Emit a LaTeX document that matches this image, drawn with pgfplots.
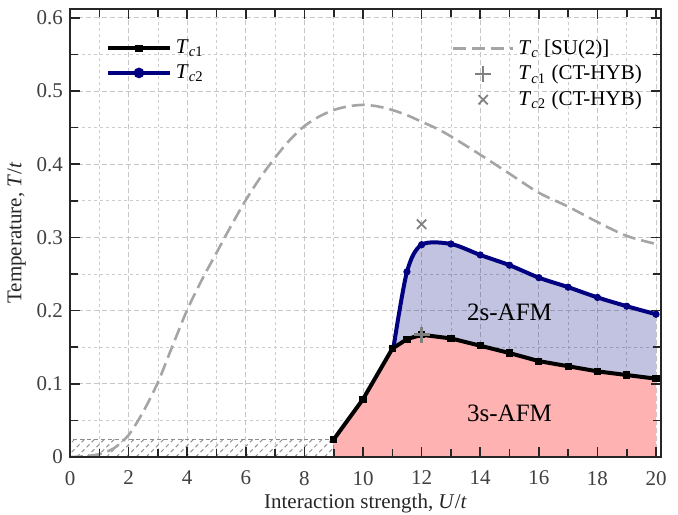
\documentclass[border=0pt]{standalone}
\usepackage{fontspec}
\setmainfont{Liberation Serif}
\usepackage{pgfplots}
\usepackage{pgfplotstable}
\pgfplotsset{compat=1.18}
\usepgfplotslibrary{fillbetween}
\usetikzlibrary{patterns.meta}
\definecolor{navyc}{RGB}{0,0,128}
\definecolor{pinkfill}{RGB}{255,178,178}
\definecolor{sugray}{RGB}{165,165,165}
\pgfplotsset{
 layers/mylayers/.define layer set={axis background,axis grid,pre main,main,axis ticks,axis lines,axis tick labels,axis descriptions,axis foreground}{/pgfplots/layers/standard},
 linemarklegend/.style={legend image code/.code={\draw[mark repeat=2,mark phase=2,##1] plot coordinates {(0pt,0pt) (15.5pt,0pt) (31pt,0pt)};}},
 dashlegend/.style={legend image code/.code={\draw[##1] (0pt,0pt) -- (30pt,0pt);}},
 marklegend/.style={legend image code/.code={\draw[##1] plot coordinates {(15pt,0pt)};}},
}
\newcommand{\Tc}[1]{\textit{T}\textsubscript{\textit{c}#1}}

\pgfplotstableread{
x y
0 0
0.5 0.001
1 0.004
1.5 0.012
2 0.030
2.5 0.062
3 0.102
3.5 0.152
4 0.201
4.5 0.242
5 0.279
5.5 0.316
6 0.351
6.5 0.382
7 0.409
7.5 0.433
8 0.452
8.5 0.465
9 0.474
9.5 0.479
10 0.481
10.5 0.479
11 0.474
11.5 0.467
12 0.458
12.5 0.449
13 0.438
14 0.413
15 0.387
16 0.361
17 0.342
18 0.321
19 0.302
20 0.291
}\su

\pgfplotstableread{
x y
9 0.024
10 0.079
11 0.148
11.5 0.161
12 0.167
13 0.162
14 0.152
15 0.142
16 0.131
17 0.124
18 0.117
19 0.112
20 0.107
}\tcone

\pgfplotstableread{
x y
11.05 0.150
11.5 0.161
12 0.167
13 0.162
14 0.152
15 0.142
16 0.131
17 0.124
18 0.117
19 0.112
20 0.107
}\tconeb

\pgfplotstableread{
x y
11.05 0.152
11.5 0.253
12 0.290
13 0.291
14 0.276
15 0.262
16 0.245
17 0.232
18 0.218
19 0.206
20 0.195
}\tctwo

\pgfplotstableread{
x y
11.5 0.253
12 0.290
13 0.291
14 0.276
15 0.262
16 0.245
17 0.232
18 0.218
19 0.206
20 0.195
}\tctwomarks

\begin{document}
\begin{tikzpicture}
\begin{axis}[
  set layers=mylayers,
  scale only axis, width=295.5pt, height=224pt,
  xmin=0, xmax=20.17, ymin=0, ymax=0.612,
  xtick={0,2,4,6,8,10,12,14,16,18,20}, minor x tick num=1,
  ytick={0,0.1,0.2,0.3,0.4,0.5,0.6}, minor y tick num=1,
  tick align=inside, xtick pos=both, ytick pos=both,
  major tick length=5pt, minor tick length=4pt,
  grid=both,
  major grid style={dash pattern=on 2.5pt off 1.5pt, gray!45, line width=0.4pt},
  minor grid style={dash pattern=on 1.5pt off 1.5pt, gray!40, line width=0.4pt},
  axis line style={black!85, line width=1pt},
  tick style={black!85, line width=0.8pt},
  font=\fontsize{10.5pt}{12.6pt}\selectfont,
  tick label style={black!75, /pgf/number format/assume math mode=true},
  xticklabel style={yshift=-3.5pt},
  label style={black!85},
  xlabel style={yshift=2.5pt},
  ylabel style={yshift=-1.5pt},
  xlabel={Interaction strength, \textit{U}/\textit{t}},
  ylabel={Temperature, \textit{T}/\textit{t}},
  legend style={at={(0.05,0.95)}, anchor=north west, draw=none, fill=none, font=\fontsize{10.5pt}{12.6pt}\selectfont},
  legend cell align=left,
]
% hatched region
\addplot[draw=gray!90, dash pattern=on 2pt off 1.5pt, line width=0.7pt,
  pattern={Lines[angle=45,distance=3.5pt,line width=0.5pt]}, pattern color=gray!85, forget plot]
  coordinates {(0,0) (0,0.024) (9,0.024) (9,0)};
% SU(2)
\addplot[sugray, line width=1.3pt, dash pattern=on 6.5pt off 3pt, smooth, forget plot] table {\su};
% paths for fills
\addplot[draw=none, name path=bottom, forget plot] coordinates {(9,0) (20,0)};
\addplot[draw=none, name path=tc1, forget plot] table {\tcone};
\addplot[draw=none, name path=tc1b, forget plot] table {\tconeb};
\addplot[draw=none, name path=tc2, smooth, forget plot] table {\tctwo};
\addplot[pinkfill, forget plot] fill between[of=tc1 and bottom];
\addplot[navyc, fill opacity=0.24, forget plot] fill between[of=tc1b and tc2];
% Tc2
\addplot[navyc, line width=2pt, smooth, forget plot] table {\tctwo};
\addplot[navyc, only marks, mark=*, mark size=1.6pt, forget plot] table {\tctwomarks};
% Tc1
\addplot[black, line width=2pt, mark=square*, mark size=0.8pt, forget plot] table {\tcone};
% CT-HYB
\addplot[gray, only marks, mark=+, mark size=4pt, line width=1.3pt, forget plot] coordinates {(12,0.167)};
\addplot[gray, only marks, mark=x, mark size=3.3pt, line width=0.9pt, forget plot] coordinates {(12,0.318)};
% legend
\addlegendimage{black, line width=2pt, mark=square*, mark size=0.8pt, linemarklegend}
\addlegendentry{\Tc{1}}
\addlegendimage{navyc, line width=2pt, mark=*, mark size=1.6pt, linemarklegend}
\addlegendentry{\Tc{2}}
\node[font=\fontsize{12.5pt}{15pt}\selectfont] at (axis cs:15,0.197) {2s-AFM};
\node[font=\fontsize{12.5pt}{15pt}\selectfont] at (axis cs:15,0.060) {3s-AFM};
\end{axis}
\begin{axis}[
  scale only axis, width=295.5pt, height=224pt,
  xmin=0, xmax=1, ymin=0, ymax=1, hide axis,
  legend style={at={(0.985,0.95)}, anchor=north east, draw=none, fill=none, font=\fontsize{10.5pt}{12.6pt}\selectfont},
  legend cell align=left,
]
\addplot[draw=none, forget plot] coordinates {(0,0) (1,1)};
\addlegendimage{sugray, line width=1.3pt, dash pattern=on 6.5pt off 3pt, dashlegend}
\addlegendentry{\Tc{} [SU(2)]}
\addlegendimage{gray, only marks, mark=+, mark size=4pt, line width=1.3pt, marklegend}
\addlegendentry{\Tc{1} (CT-HYB)}
\addlegendimage{gray, only marks, mark=x, mark size=3.3pt, line width=0.9pt, marklegend}
\addlegendentry{\Tc{2} (CT-HYB)}
\end{axis}
\pgfresetboundingbox
\path[use as bounding box] (-35pt,-28.5pt) rectangle (304pt,228.5pt);
\end{tikzpicture}
\end{document}
